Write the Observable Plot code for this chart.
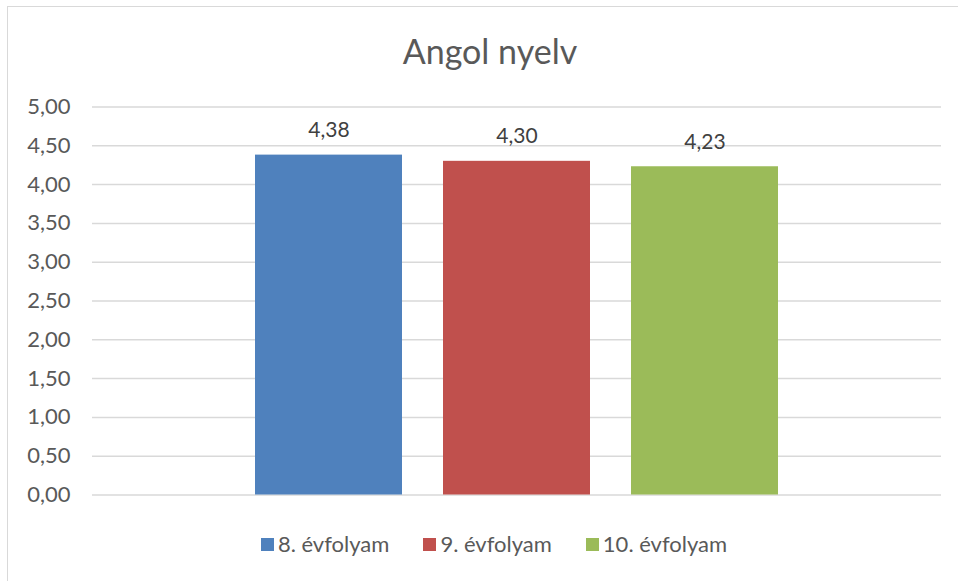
<!DOCTYPE html>
<html>
<head>
<meta charset="utf-8">
<script src="https://cdn.jsdelivr.net/npm/d3@7"></script>
<script src="https://cdn.jsdelivr.net/npm/@observablehq/plot@0.6"></script>
<style>
  html, body { margin: 0; padding: 0; background: #fff; }
  #wrap { position: relative; width: 958px; height: 581px; overflow: hidden; font-family: Lato, "Open Sans", sans-serif; }
  #frame { position: absolute; left: 7px; top: 6px; width: 1200px; height: 1200px; border-top: 1.5px solid #d9d9d9; border-left: 1.5px solid #d9d9d9; box-sizing: border-box; }
  #title { position: relative; height: 90px; box-sizing: border-box; padding-top: 34px; width: 980px; text-align: center; font-size: 34px; line-height: 34px; color: #595959; }
  #chart { position: relative; height: 420px; }
  #legend { position: relative; display: flex; justify-content: center; width: 988px; padding-top: 23px; font-size: 22px; line-height: 22px; color: #595959; }
  .item { display: flex; align-items: center; margin: 0 17px; }
  .sw { width: 13px; height: 13px; margin-right: 4px; }
</style>
</head>
<body>
<div id="wrap">
  <div id="frame"></div>
  <div id="title">Angol nyelv</div>
  <div id="chart"></div>
  <div id="legend"></div>
</div>
<script>
const series = ["8. évfolyam", "9. évfolyam", "10. évfolyam"];
const values = [4.38, 4.30, 4.23];
const colors = ["#4F81BD", "#C0504D", "#9BBB59"];
const yTicks = [0, 0.5, 1, 1.5, 2, 2.5, 3, 3.5, 4, 4.5, 5];

const data = series.map((s, i) => ({series: s, value: values[i]}));
const fmt = v => d3.format(".2f")(v).replace(".", ",");

const plot = Plot.plot({
  width: 958,
  height: 420,
  marginLeft: 92,
  marginRight: 17,
  marginTop: 16.5,
  marginBottom: 15.5,
  style: {background: "transparent", fontFamily: "Lato, 'Open Sans', sans-serif"},
  x: {domain: series, paddingInner: 0.217, paddingOuter: 0.856, axis: null},
  y: {domain: [0, 5], ticks: yTicks, axis: null},
  color: {domain: series, range: colors},
  marks: [
    Plot.ruleY(yTicks, {stroke: "#d9d9d9", strokeWidth: 1.5}),
    Plot.axisY({ticks: yTicks, tickSize: 0, tickPadding: 22, tickFormat: fmt, fontSize: 22, color: "#595959", label: null}),
    Plot.barY(data, {x: "series", y: "value", fill: "series"}),
    Plot.text(data, {x: "series", y: "value", text: d => fmt(d.value), lineAnchor: "bottom", dy: -18, fontSize: 21, fill: "#404040"})
  ]
});
document.getElementById("chart").appendChild(plot);

const legend = document.getElementById("legend");
series.forEach((s, i) => {
  const item = document.createElement("div");
  item.className = "item";
  const sw = document.createElement("div");
  sw.className = "sw";
  sw.style.background = colors[i];
  const t = document.createElement("span");
  t.textContent = s;
  item.appendChild(sw);
  item.appendChild(t);
  legend.appendChild(item);
});
</script>
</body>
</html>
